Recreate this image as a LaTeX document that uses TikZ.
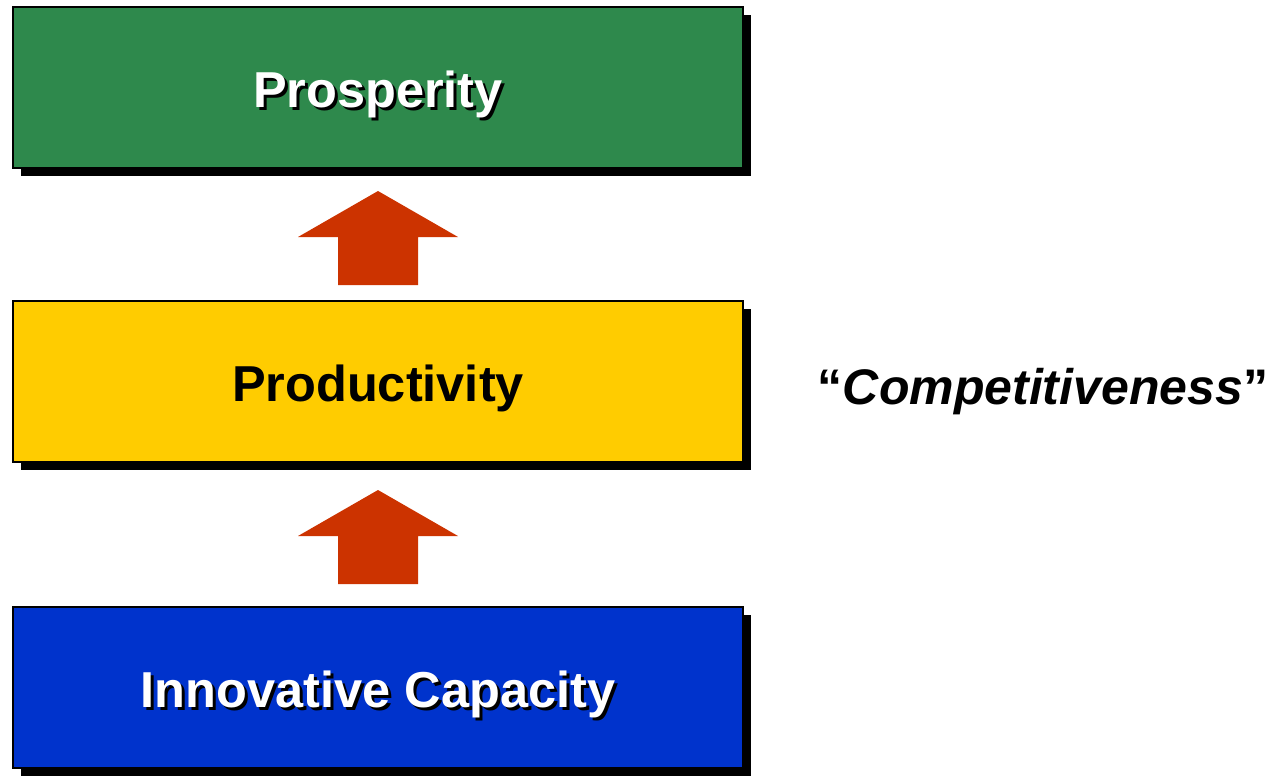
\documentclass[tikz,border=0pt]{standalone}
\usepackage{fontspec}
\setmainfont{Liberation Sans}
\usepackage{xcolor}
\usepackage{tikz}
\usetikzlibrary{positioning,calc,shadows}

\definecolor{prospgreen}{RGB}{46,137,76}
\definecolor{prodyellow}{RGB}{255,204,0}
\definecolor{innoblue}{RGB}{0,51,204}
\definecolor{arrowred}{RGB}{204,51,0}

% white text with a black shadow
\newcommand{\shadowtext}[1]{\makebox[0pt][l]{\hspace{3pt}\raisebox{-3pt}{\color{black}#1}}#1}

\tikzset{
  levelbox/.style={draw=black, line width=1.5pt, minimum width=730pt, minimum height=161pt, outer sep=0pt,
    font=\fontsize{50.5}{60}\selectfont\bfseries, text height=40pt, text depth=0pt,
    drop shadow={shadow xshift=8pt, shadow yshift=-8pt, fill=black, opacity=1}},
  uparrow/.style={fill=arrowred}
}

\begin{document}
\begin{tikzpicture}[x=1pt, y=1pt]
        \useasboundingbox (0,0) rectangle (1288,-777);
        \node[levelbox, fill=prospgreen, text=white] (prosp) at (378,-87.5) {\shadowtext{Prosperity}};
        \node[levelbox, fill=prodyellow, text=black, below=133pt of prosp] (prod) {Productivity};
        \node[levelbox, fill=innoblue, text=white, below=145pt of prod] (innov) {\shadowtext{Innovative Capacity}};
        \node[font=\fontsize{50}{60}\selectfont\bfseries, text height=40pt, text depth=0pt] (compet) at (1043,-384) {``\textit{Competitiveness}''};
        % arrows between the levels
        \coordinate (tip1) at ($(prosp.south)+(0,-23)$);
        \coordinate (tip2) at ($(prod.south)+(0,-28)$);
        \foreach \t in {tip1,tip2}
          \fill[uparrow] (\t) -- ++(80,-46) -- ++(-40,0) -- ++(0,-48) -- ++(-80,0) -- ++(0,48) -- ++(-40,0) -- cycle;
    \end{tikzpicture}
\end{document}
